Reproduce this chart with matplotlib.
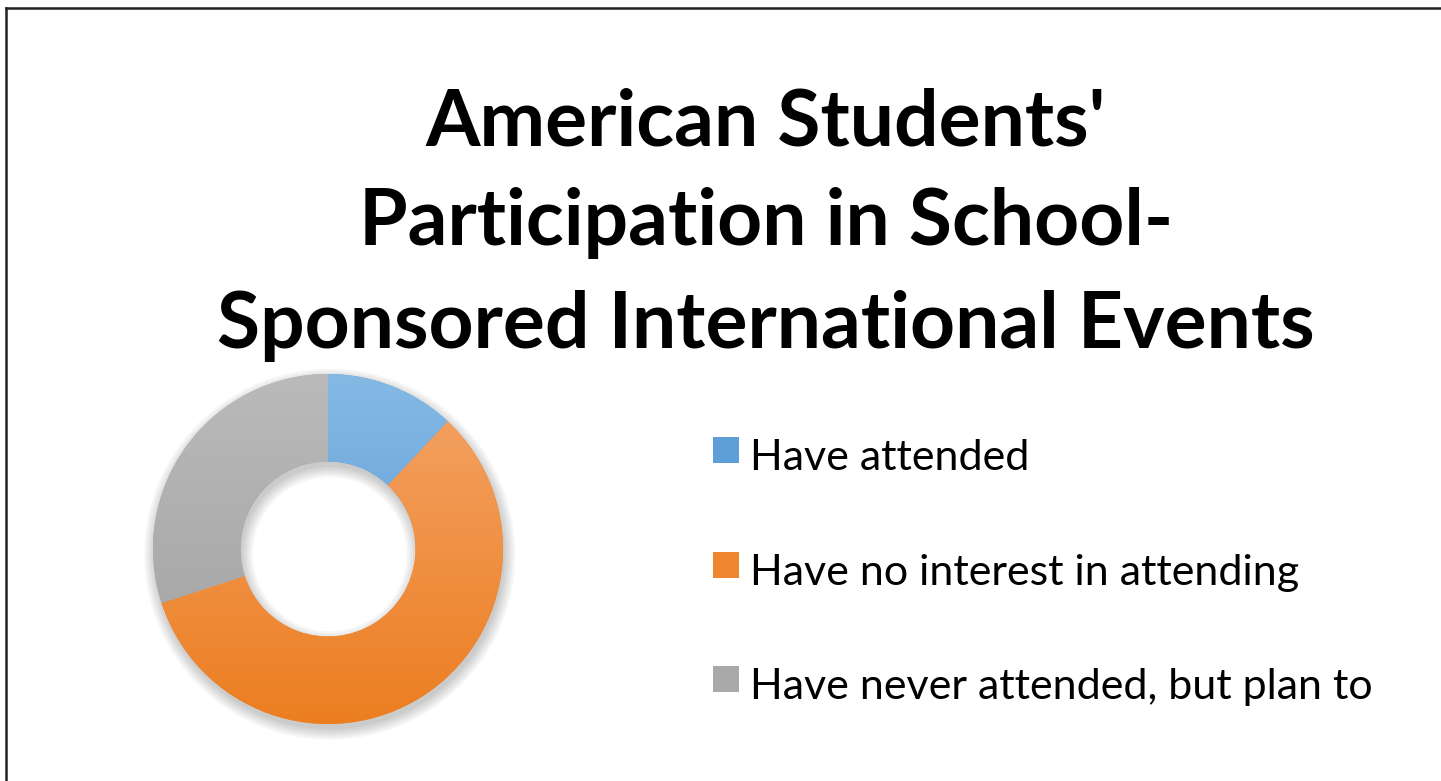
import matplotlib
matplotlib.use("Agg")
import numpy as np
import matplotlib.pyplot as plt
from matplotlib.patches import Wedge
from matplotlib.lines import Line2D
from matplotlib.colors import to_rgb

# data
labels = ["Have attended", "Have no interest in attending", "Have never attended, but plan to"]
shares = [12, 58, 30]
colors = ["#5E9FD7", "#EF862D", "#A9A9A9"]
# light (top) / dark (bottom) shades used for the gradient fill
tops = ["#85B9E4", "#F4A468", "#BABABA"]
bottoms = ["#4E96D3", "#EC7E21", "#A0A0A0"]
title_lines = ["American Students'", "Participation in School-", "Sponsored International Events"]

W, H = 1441, 781
fig = plt.figure(figsize=(W / 100, H / 100), dpi=100)
fig.patch.set_facecolor("white")

# frame (left and top edges visible)
fig.add_artist(Line2D([5.5 / W, 5.5 / W], [0, 1 - 7.5 / H], color="#222222", lw=1.8))
fig.add_artist(Line2D([5.5 / W, 1], [1 - 7.5 / H, 1 - 7.5 / H], color="#222222", lw=1.8))

# title, one line at a time
baselines = [146, 245, 348]
for line, yb in zip(title_lines, baselines):
    fig.text(766 / W, 1 - yb / H, line, ha="center", va="baseline",
             fontsize=56.5, fontweight="bold", family="Lato", color="black")

# donut
cx, cy, r = 328, 549, 175
ax = fig.add_axes([(cx - r) / W, (H - cy - r) / H, 2 * r / W, 2 * r / H])
ax.axis("off")

# soft shadow
for k in range(6):
    ax.add_patch(Wedge((0.01, -0.03), 1.0 + 0.012 * k, 0, 360, width=0.5 + 0.024 * k,
                       facecolor="black", edgecolor="none", alpha=0.035, clip_on=False))

wedges, _ = ax.pie(shares, colors=colors, startangle=90, counterclock=False,
                   radius=1.0, wedgeprops=dict(width=0.5, edgecolor="none"))

# vertical gradient inside each wedge
t = np.linspace(0, 1, 256)[:, None]
for w, c0, c1 in zip(wedges, tops, bottoms):
    w.set_clip_on(False)
    a, b = np.array(to_rgb(c0)), np.array(to_rgb(c1))
    grad = (a[None, :] * (1 - t) + b[None, :] * t)[:, None, :]
    im = ax.imshow(grad, extent=[-1, 1, -1, 1], origin="upper", aspect="auto",
                   zorder=w.get_zorder() + 0.1)
    im.set_clip_path(w)

ax.set_xlim(-1, 1)
ax.set_ylim(-1, 1)

# legend
leg_top = [437, 552, 666]
for lab, col, yt in zip(labels, colors, leg_top):
    fig.patches.append(plt.Rectangle((713 / W, 1 - (yt + 26) / H), 26 / W, 26 / H,
                                     transform=fig.transFigure, facecolor=col,
                                     edgecolor="none"))
    fig.text(750 / W, 1 - (yt + 33) / H, lab, ha="left", va="baseline",
             fontsize=31, family="Lato", color="black")

fig.savefig("out.png", dpi=100)
